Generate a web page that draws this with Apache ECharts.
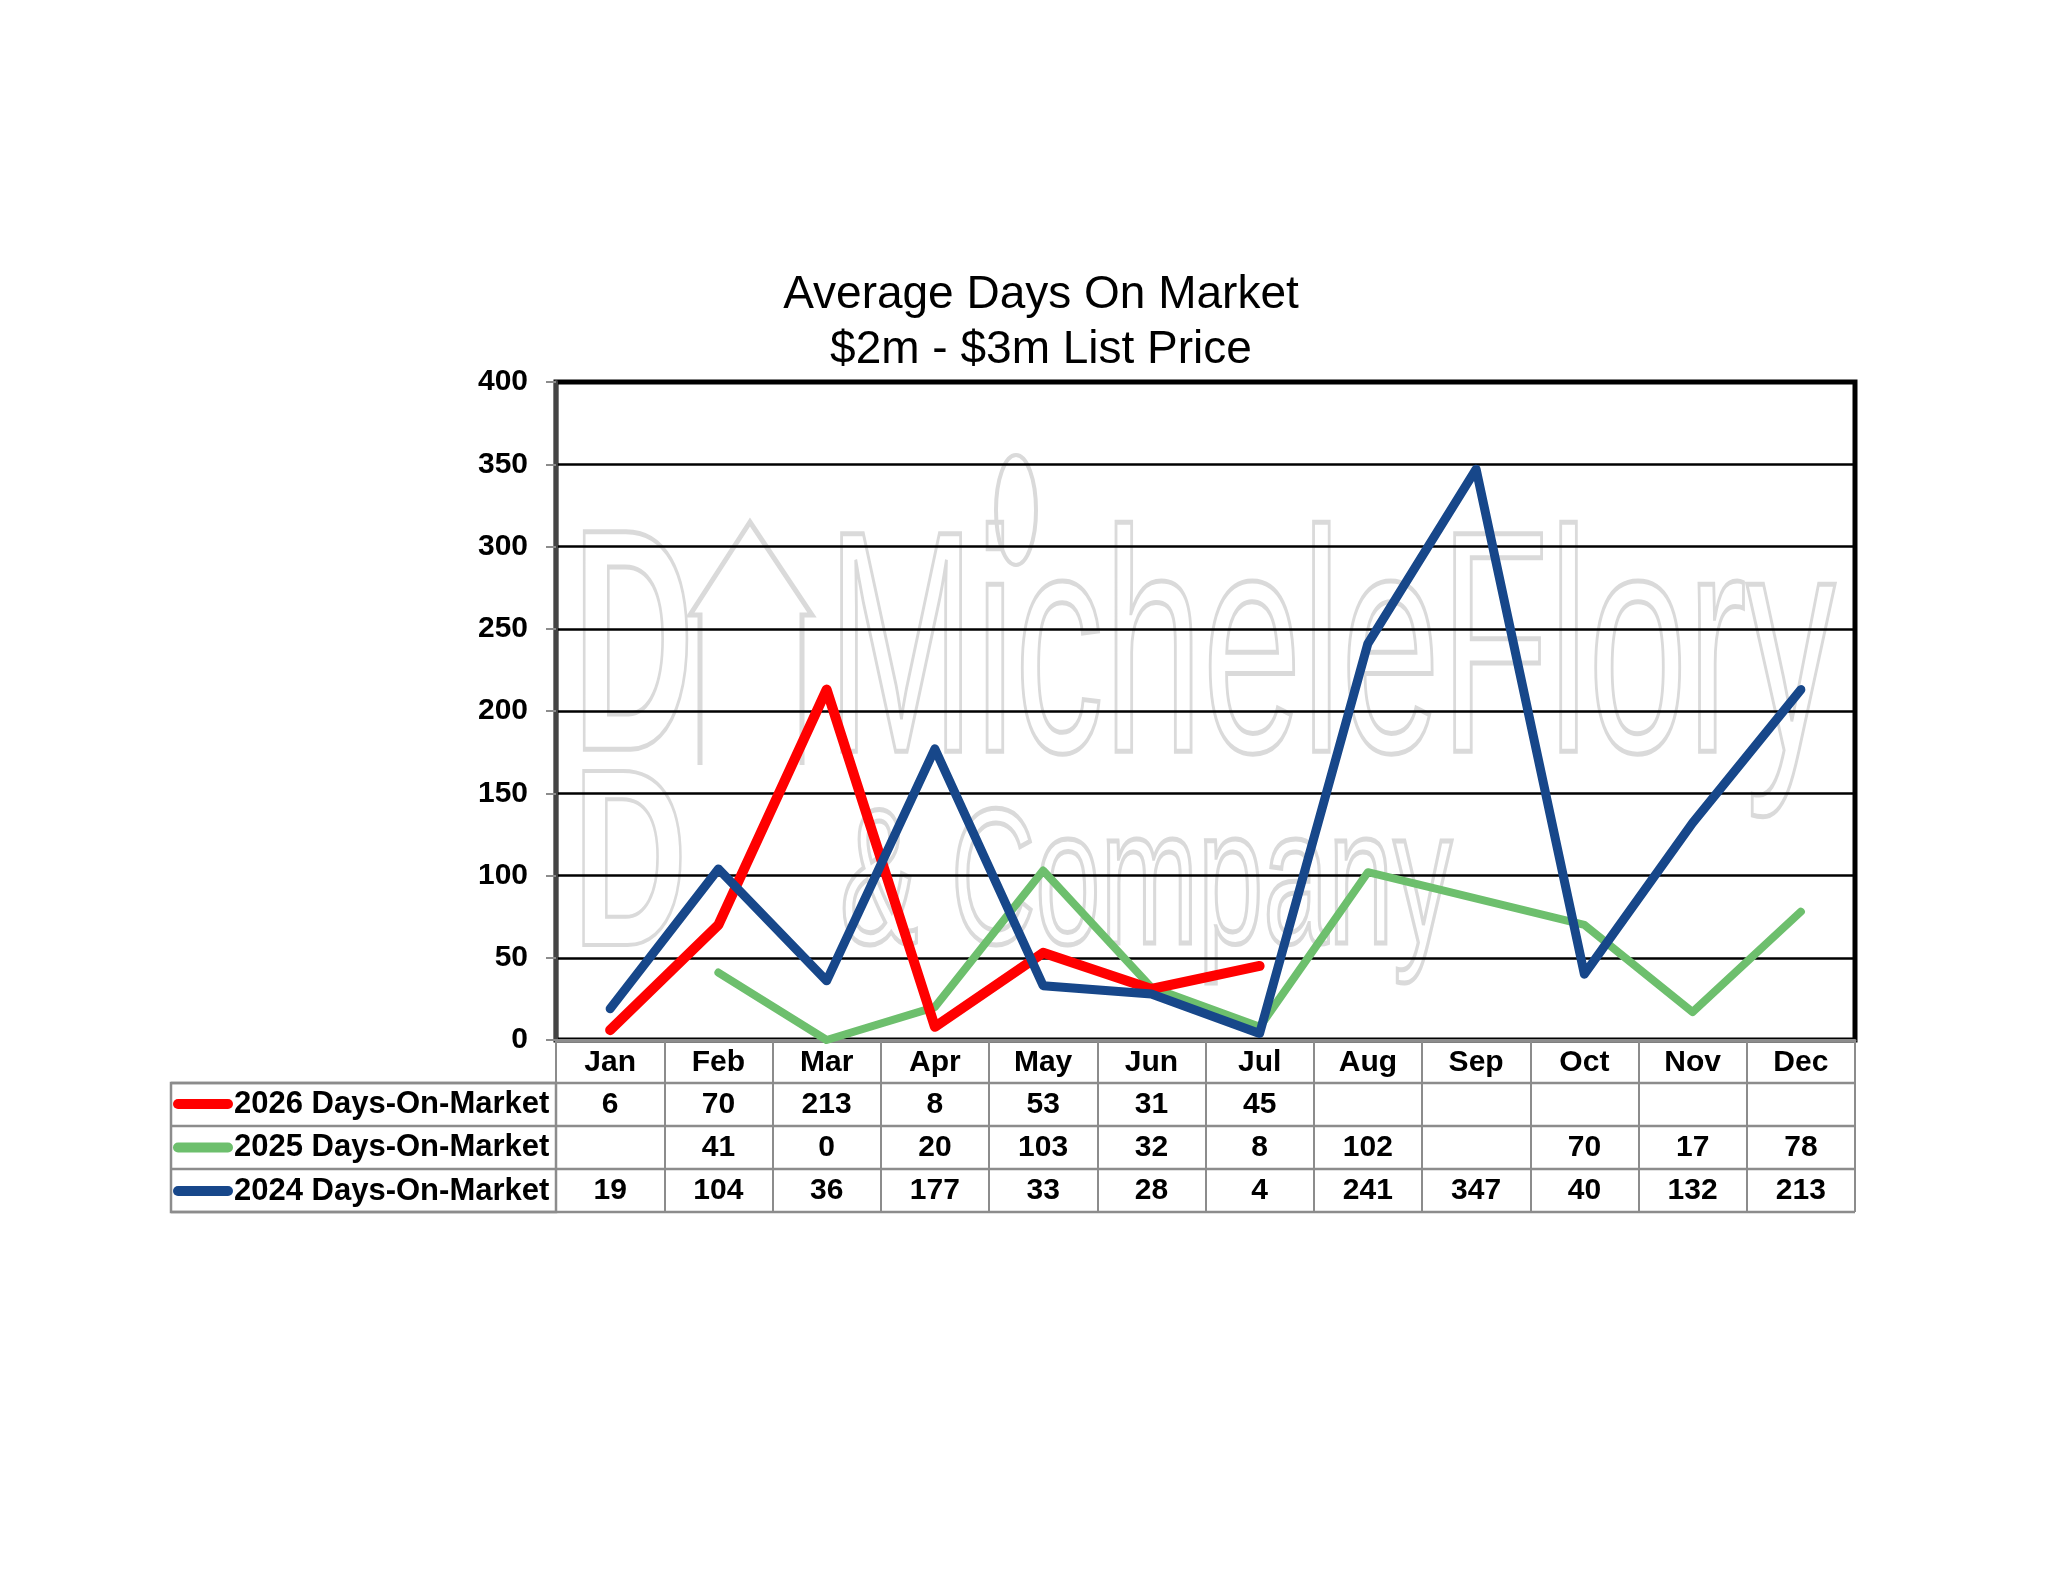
<!DOCTYPE html>
<html>
<head>
<meta charset="utf-8">
<script src="https://cdn.jsdelivr.net/npm/echarts@6/dist/echarts.min.js"></script>
<style>
  html, body { margin: 0; padding: 0; background: #fff; }
  #dom { width: 2048px; height: 1583px; }
</style>
</head>
<body>
<div id="dom"></div>
<script>
var months = ['Jan', 'Feb', 'Mar', 'Apr', 'May', 'Jun', 'Jul', 'Aug', 'Sep', 'Oct', 'Nov', 'Dec'];
var dom2026 = [6, 70, 213, 8, 53, 31, 45, null, null, null, null, null];
var dom2025 = [null, 41, 0, 20, 103, 32, 8, 102, null, 70, 17, 78];
var dom2024 = [19, 104, 36, 177, 33, 28, 4, 241, 347, 40, 132, 213];
var seriesNames = ['2026 Days-On-Market', '2025 Days-On-Market', '2024 Days-On-Market'];
var yTicks = [0, 400, 50]; // min, max, interval

// layout of plot + table (px)
var L = 556, R = 1855, T = 382, B = 1040;
var rowTop = [1083, 1126, 1169, 1212];
var font = 'Liberation Sans, Arial, sans-serif';
var wm = '#dadada';

var myChart = echarts.init(document.getElementById('dom'));

var tableRows = [dom2026, dom2025, dom2024];
var rowAxes = tableRows.map(function (arr, i) {
    return {
        type: 'category',
        gridIndex: 0,
        position: 'bottom',
        data: months,
        axisLine: { show: false },
        axisTick: { show: false },
        axisLabel: {
            margin: (rowTop[i] + rowTop[i + 1]) / 2 - B,
            verticalAlign: 'middle',
            fontFamily: font, fontWeight: 'bold', fontSize: 30, color: '#000',
            formatter: function (v, idx) {
                return arr[idx] == null ? '' : String(arr[idx]);
            }
        }
    };
});

var capsule = 'path://M5,0 L55,0 A5,5 0 0 1 55,10 L5,10 A5,5 0 0 1 5,0 Z';

var option = {
    animation: false,
    backgroundColor: '#fff',
    grid: {
        left: L, right: 2048 - R, top: T, bottom: 1583 - B,
        show: true, borderColor: '#000', borderWidth: 5
    },
    legend: {
        orient: 'vertical',
        left: 168, top: 1083,
        itemWidth: 60, itemHeight: 10,
        itemGap: 11.5,
        selectedMode: false,
        data: seriesNames.map(function (n) { return { name: n, icon: capsule }; }),
        textStyle: { fontFamily: font, fontWeight: 'bold', fontSize: 31, lineHeight: 32, color: '#000', padding: [0, 0, 0, -4] }
    },
    xAxis: [{
        type: 'category',
        data: months,
        boundaryGap: true,
        axisLine: { lineStyle: { color: '#8c8c8c', width: 3 } },
        axisTick: { show: true, length: rowTop[3] - B, lineStyle: { color: '#8c8c8c', width: 2 } },
        axisLabel: {
            margin: 23, verticalAlign: 'middle',
            fontFamily: font, fontWeight: 'bold', fontSize: 30, color: '#000'
        }
    }].concat(rowAxes),
    yAxis: {
        type: 'value',
        min: yTicks[0], max: yTicks[1], interval: yTicks[2],
        axisLine: { show: true, lineStyle: { color: '#444', width: 4 } },
        axisTick: { show: true, length: 10, lineStyle: { color: '#8c8c8c', width: 2 } },
        axisLabel: { margin: 28, fontFamily: font, fontWeight: 'bold', fontSize: 30, color: '#000' },
        splitLine: { lineStyle: { color: '#000', width: 2.5 } }
    },
    graphic: [
        // watermark logo
        { type: 'text', z: -10, x: 573, y: 662, scaleX: 0.53,
          style: { text: 'D', font: 'bold 316px ' + font, fill: 'none', stroke: wm, lineWidth: 5, verticalAlign: 'middle' } },
        { type: 'text', z: -10, x: 573, y: 875, scaleX: 0.5, scaleY: 0.8,
          style: { text: 'D', font: 'bold 316px ' + font, fill: 'none', stroke: wm, lineWidth: 5, verticalAlign: 'middle' } },
        { type: 'polyline', z: -10,
          shape: { points: [[700, 765], [700, 615], [690, 615], [750, 522], [812, 615], [802, 615], [802, 765]] },
          style: { fill: 'none', stroke: wm, lineWidth: 5 } },
        { type: 'ellipse', z: -10, shape: { cx: 1016, cy: 510, rx: 20, ry: 55 },
          style: { fill: 'none', stroke: wm, lineWidth: 4 } },
        { type: 'text', z: -10, x: 827, y: 664, scaleX: 0.563,
          style: { text: 'MicheleFlory', font: '316px ' + font, fill: 'none', stroke: wm, lineWidth: 5, verticalAlign: 'middle' } },
        { type: 'text', z: -10, x: 840, y: 890, scaleX: 0.607,
          style: { text: '& Company', font: '193px ' + font, fill: 'none', stroke: wm, lineWidth: 5, verticalAlign: 'middle' } },
        // title
        { type: 'text', x: 1041, y: 268,
          style: { text: 'Average Days On Market\n$2m - $3m List Price', font: '46px ' + font, fill: '#000', align: 'center', lineHeight: 55 } },
        // table frame
        { type: 'rect', shape: { x: 171, y: rowTop[0], width: L - 171, height: rowTop[3] - rowTop[0] },
          style: { fill: 'none', stroke: '#8c8c8c', lineWidth: 2.5 } },
        { type: 'line', shape: { x1: 171, y1: rowTop[0], x2: R, y2: rowTop[0] }, style: { stroke: '#8c8c8c', lineWidth: 2.5 } },
        { type: 'line', shape: { x1: 171, y1: rowTop[1], x2: R, y2: rowTop[1] }, style: { stroke: '#8c8c8c', lineWidth: 2.5 } },
        { type: 'line', shape: { x1: 171, y1: rowTop[2], x2: R, y2: rowTop[2] }, style: { stroke: '#8c8c8c', lineWidth: 2.5 } },
        { type: 'line', shape: { x1: 171, y1: rowTop[3], x2: R, y2: rowTop[3] }, style: { stroke: '#8c8c8c', lineWidth: 2.5 } }
    ],
    series: [{
        name: seriesNames[1], type: 'line', data: dom2025, connectNulls: true,
        symbol: 'none', z: 3, color: '#6dbf6d',
        lineStyle: { width: 8, cap: 'round', join: 'round' }
    }, {
        name: seriesNames[0], type: 'line', data: dom2026,
        symbol: 'none', z: 4, color: '#ff0000',
        lineStyle: { width: 10, cap: 'round', join: 'round' }
    }, {
        name: seriesNames[2], type: 'line', data: dom2024,
        symbol: 'none', z: 5, color: '#17478a',
        lineStyle: { width: 9, cap: 'round', join: 'round' }
    }]
};
myChart.setOption(option);
</script>
</body>
</html>
